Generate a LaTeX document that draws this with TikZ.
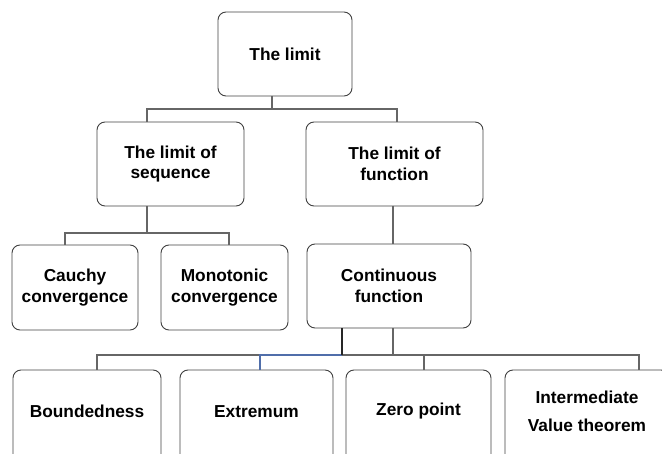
\documentclass[tikz,border=0pt]{standalone}
\usepackage{fontspec}
\setmainfont{Liberation Sans}
\definecolor{linkblue}{RGB}{80,110,170}
\begin{document}
\begin{tikzpicture}[x=1pt,y=-1pt,
  box/.style={draw=black!75, line width=0.9pt, rounded corners=8pt, inner sep=0pt},
  lbl/.style={font=\bfseries\fontsize{17.3}{20.5}\selectfont, align=center, text=black},
  conn/.style={draw=black!60, line width=1.1pt},
  bconn/.style={draw=linkblue, line width=1.1pt}]
\useasboundingbox (0,0) rectangle (662,454);
\clip (0,0) rectangle (662,454);
% level 0
\node[box, minimum width=134pt, minimum height=84pt, lbl] (top) at (285,54) {The limit};
% level 1
\node[box, minimum width=147pt, minimum height=84pt, lbl] (seq) at (170.5,164) {The limit of\\sequence};
\node[box, minimum width=177pt, minimum height=84pt, lbl] (fun) at (394.5,164) {The limit of\\function};
% level 2
\node[box, minimum width=126pt, minimum height=85pt, lbl] (cau) at (75,287.5) {Cauchy\\convergence};
\node[box, minimum width=127pt, minimum height=85pt, lbl] (mon) at (224.5,287.5) {Monotonic\\convergence};
\node[box, minimum width=164pt, minimum height=84pt, lbl] (con) at (389,286) {Continuous\\function};
% level 3 (cut by the page edge)
\node[box, minimum width=148pt, minimum height=110pt] (bd) at (87,425) {};
\node[box, minimum width=153pt, minimum height=110pt] (ex) at (256.5,425) {};
\node[box, minimum width=145pt, minimum height=110pt] (zp) at (418.5,425) {};
\node[box, minimum width=164pt, minimum height=110pt] (iv) at (587,425) {};
\node[lbl] (bdt) at (87,411) {Boundedness};
\node[lbl] (ext) at (256.5,412) {Extremum};
\node[lbl] (zpt) at (418.5,411) {Zero point};
\node[lbl, font=\bfseries\fontsize{17.3}{28}\selectfont] (ivt) at (587,411) {Intermediate\\Value theorem};
% connectors level 0 -> 1
\coordinate (j0) at (272,109);
\coordinate (hL) at (147,109);
\coordinate (hR) at (397,109);
\draw[conn] (top.south -| j0) -- (j0);
\draw[conn] (seq.north -| hL) -- (hL) -- (hR) -- (fun.north -| hR);
% sequence -> children
\coordinate (j1) at (147,233);
\coordinate (cL) at (65,233);
\coordinate (cR) at (229,233);
\draw[conn] (seq.south -| j1) -- (j1);
\draw[conn] (cau.north -| cL) -- (cL) -- (cR) -- (mon.north -| cR);
% function -> continuous
\coordinate (j2) at (393,206);
\draw[conn] (j2) -- (con.north -| j2);
% continuous -> bottom row
\coordinate (k1) at (342,355);
\coordinate (k2) at (393,355);
\coordinate (b1) at (97,355);
\coordinate (b2) at (260,355);
\coordinate (b3) at (424,355);
\coordinate (b4) at (639,355);
\draw[conn] (con.south -| k2) -- (k2);
\draw[conn] (bd.north -| b1) -- (b1) -- (b2);
\draw[conn] (k1) -- (b4) -- (iv.north -| b4);
\draw[conn] (b3) -- (zp.north -| b3);
\draw[bconn] (ex.north -| b2) -- (b2) -- (k1);
\draw[draw=black!85, line width=1.3pt] (con.south -| k1) -- (k1);
\end{tikzpicture}
\end{document}
